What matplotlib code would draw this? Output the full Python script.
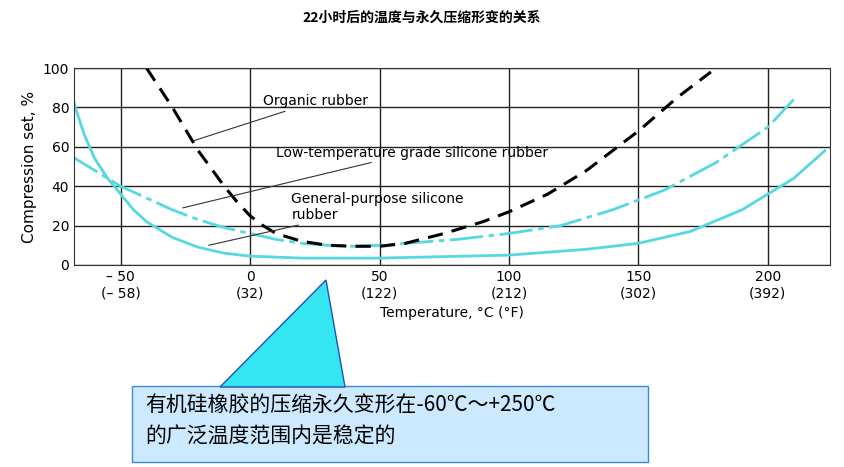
import matplotlib
matplotlib.use("Agg")
import matplotlib.pyplot as plt
from matplotlib.patches import Polygon, Rectangle

plt.rcParams['font.family'] = ['DejaVu Sans', 'Noto Sans CJK SC']

org_x = [-40, -35, -30, -25, -20, -15, -10, -5, 0, 5, 10, 20, 30, 40, 50, 60, 75, 90, 100, 115, 130, 150, 165, 178]
org_y = [100, 90, 80, 69, 58, 49, 40, 32, 25, 20, 16, 12, 10, 9.5, 9.5, 11, 16, 22, 27, 36, 48, 68, 85, 98]
low_x = [-70, -60, -50, -40, -30, -20, -10, 0, 10, 20, 30, 40, 50, 60, 80, 100, 120, 140, 160, 180, 200, 210]
low_y = [56, 48, 40, 34, 28, 23, 19, 16, 13, 11, 10, 9.5, 10, 11, 13, 16, 20, 28, 38, 52, 70, 84]
gen_x = [-70, -67, -64, -60, -55, -50, -45, -40, -30, -20, -10, 0, 20, 50, 100, 130, 150, 170, 190, 210, 222]
gen_y = [92, 78, 66, 54, 44, 36, 28, 22, 14, 9, 6, 4.5, 3.5, 3.5, 5, 8, 11, 17, 28, 44, 58]
xticks = [-50, 0, 50, 100, 150, 200]
xlabels = ['– 50\n(– 58)', '0\n(32)', '50\n(122)', '100\n(212)', '150\n(302)', '200\n(392)']
yticks = [0, 20, 40, 60, 80, 100]

W, H = 844, 467
fig = plt.figure(figsize=(W/100, H/100), dpi=100)
ax = fig.add_axes([74/W, 1-265/H, (830-74)/W, (265-68)/H])
cyan = '#55d8e0'
ax.plot(gen_x, gen_y, color=cyan, lw=2)
ax.plot(low_x, low_y, color=cyan, lw=2, dashes=[12, 2, 2, 2])
ax.plot(org_x, org_y, color='black', lw=2.2, dashes=[5, 3])
ax.set_xlim(-68, 224)
ax.set_ylim(0, 100)
ax.set_xticks(xticks)
ax.set_xticklabels(xlabels, fontsize=10)
ax.set_yticks(yticks)
ax.tick_params(length=0, labelsize=10)
ax.grid(True, color='#222222', lw=1)
for s in ax.spines.values():
    s.set_color('#333333')
ax.set_ylabel('Compression set, %', fontsize=11)
ax.set_xlabel('Temperature, °C (°F)', fontsize=10)

ax.annotate('Organic rubber', xy=(-22, 63), xytext=(5, 83), fontsize=10,
            arrowprops=dict(arrowstyle='-', color='#333333', lw=0.8, shrinkA=0, shrinkB=0), va='center')
ax.annotate('Low-temperature grade silicone rubber', xy=(-26, 29), xytext=(10, 57), fontsize=10,
            arrowprops=dict(arrowstyle='-', color='#333333', lw=0.8, shrinkA=0, shrinkB=0), va='center')
ax.annotate('General-purpose silicone\nrubber', xy=(-16, 10), xytext=(16, 37), fontsize=10,
            arrowprops=dict(arrowstyle='-', color='#333333', lw=0.8, shrinkA=0, shrinkB=0), va='top')

fig.text(422/W, 1-18/H, '22小时后的温度与永久压缩形变的关系', ha='center', va='center',
         fontsize=10, family=['Noto Sans CJK SC'], fontweight='bold')

# callout
box = Rectangle((132/W, 1-462/H), (648-132)/W, (462-386)/H, transform=fig.transFigure,
                facecolor='#cde9ff', edgecolor='#3a8ad8', lw=1)
fig.patches.append(box)
tri = Polygon([(326/W, 1-280/H), (220/W, 1-387/H), (345/W, 1-387/H)], closed=True,
              transform=fig.transFigure, facecolor='#33e6f0', edgecolor='#2050c0', lw=1)
fig.patches.append(tri)
fig.text(145/W, 1-406/H, '有机硅橡胶的压缩永久变形在-60℃～+250℃', fontsize=15,
         family=['Noto Sans CJK SC', 'DejaVu Sans'], va='center')
fig.text(145/W, 1-437/H, '的广泛温度范围内是稳定的', fontsize=15,
         family=['Noto Sans CJK SC', 'DejaVu Sans'], va='center')

fig.savefig('out.png', dpi=100)
